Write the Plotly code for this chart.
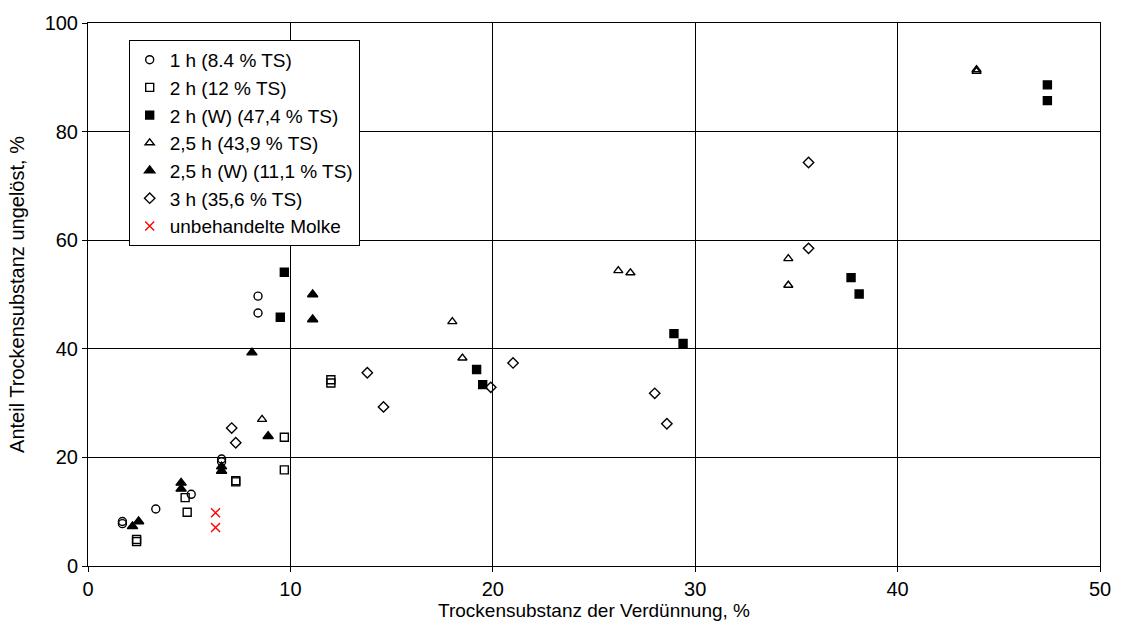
import plotly.graph_objects as go

# ---- data (x: Trockensubstanz der Verdünnung %, y: Anteil TS ungelöst %) ----
x_1h = [1.7, 1.7, 3.35, 5.1, 6.6, 6.6, 8.4, 8.4]
y_1h = [8.2, 7.8, 10.5, 13.2, 19.7, 19.2, 49.7, 46.6]

x_2h = [2.4, 2.4, 4.8, 4.9, 7.3, 7.3, 9.7, 9.7, 12.0, 12.0]
y_2h = [4.9, 4.5, 12.6, 9.9, 15.7, 15.5, 23.7, 17.7, 34.3, 33.7]

x_2hW = [9.5, 9.7, 19.2, 19.5, 28.95, 29.4, 37.7, 38.1, 47.4, 47.4]
y_2hW = [45.8, 54.1, 36.2, 33.4, 42.8, 41.0, 53.1, 50.1, 88.6, 85.7]

x_25h = [8.6, 18.0, 18.5, 26.2, 26.8, 34.6, 34.6, 43.9, 43.9]
y_25h = [27.0, 45.0, 38.3, 54.4, 54.0, 56.6, 51.7, 91.4, 91.1]

x_25hW = [2.2, 2.5, 4.6, 4.6, 6.6, 6.6, 8.1, 8.9, 11.1, 11.1]
y_25hW = [7.3, 8.2, 15.3, 14.2, 18.3, 17.5, 39.3, 23.9, 50.0, 45.4]

x_3h = [7.1, 7.3, 13.8, 14.6, 19.9, 21.0, 28.0, 28.6, 35.6, 35.6]
y_3h = [25.4, 22.7, 35.6, 29.3, 32.9, 37.4, 31.8, 26.2, 58.5, 74.3]

x_molke = [6.3, 6.3]
y_molke = [9.8, 7.1]

x_ticks = [0, 10, 20, 30, 40, 50]
y_ticks = [0, 20, 40, 60, 80, 100]

series = [
    ("1 h (8.4 % TS)", x_1h, y_1h, "circle-open", "black", 8),
    ("2 h (12 % TS)", x_2h, y_2h, "square-open", "black", 8),
    ("2 h (W) (47,4 % TS)", x_2hW, y_2hW, "square", "black", 8),
    ("2,5 h (43,9 % TS)", x_25h, y_25h, "triangle-up-open", "black", 8),
    ("2,5 h (W) (11,1 % TS)", x_25hW, y_25hW, "triangle-up", "black", 9),
    ("3 h (35,6 % TS)", x_3h, y_3h, "diamond-open", "black", 8),
    ("unbehandelte Molke", x_molke, y_molke, "x-thin-open", "red", 9),
]

FONT = "Liberation Sans, Arial, sans-serif"

fig = go.Figure()
for name, xs, ys, sym, col, sz in series:
    fig.add_trace(go.Scatter(
        x=xs, y=ys, mode="markers", name=name,
        marker=dict(symbol=sym, size=sz, color=col,
                    line=dict(color=col, width=1.4)),
    ))

axis_common = dict(
    showline=True, linecolor="black", linewidth=1, mirror=True,
    showgrid=True, gridcolor="black", gridwidth=1,
    ticks="outside", ticklen=5, tickcolor="black",
    zeroline=False,
    tickfont=dict(family=FONT, size=20, color="black"),
)

fig.update_layout(
    width=1123, height=641,
    margin=dict(l=88, r=16, t=19, b=75),
    paper_bgcolor="white", plot_bgcolor="white",
    font=dict(family=FONT, size=20, color="black"),
    xaxis=dict(range=[0, 50], tickvals=x_ticks,
               title=dict(text="Trockensubstanz der Verdünnung, %", standoff=3,
                          font=dict(size=19)),
               **axis_common),
    yaxis=dict(range=[0, 100], tickvals=y_ticks,
               title=dict(text="Anteil Trockensubstanz ungelöst, %", standoff=14,
                          font=dict(size=20)),
               **axis_common),
    legend=dict(x=0.0402, y=0.969, xanchor="left", yanchor="top",
                bgcolor="white", bordercolor="black", borderwidth=1,
                font=dict(family=FONT, size=19), itemsizing="trace",
                itemwidth=30, tracegroupgap=0),
    showlegend=True,
)

fig.write_html("out.html")
